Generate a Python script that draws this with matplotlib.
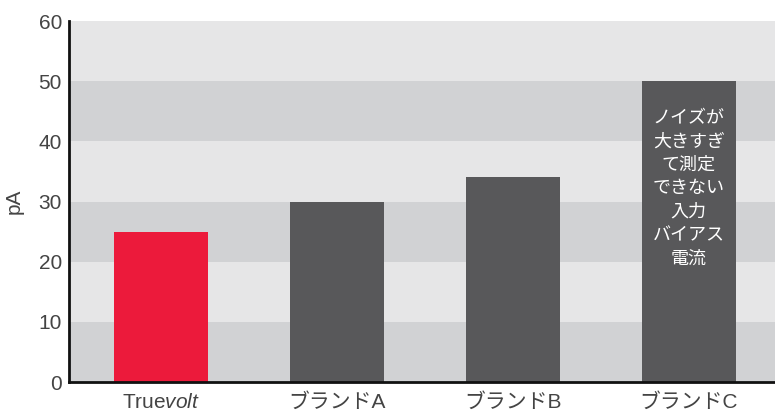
"""Input bias current comparison: Truevolt vs other brands (pA)."""

import matplotlib
matplotlib.use("Agg")
import matplotlib.pyplot as plt

plt.rcParams["font.family"] = ["Liberation Sans", "Noto Sans CJK JP", "DejaVu Sans"]
plt.rcParams["mathtext.fontset"] = "custom"
plt.rcParams["mathtext.rm"] = "Liberation Sans"
plt.rcParams["mathtext.it"] = "Liberation Sans:italic"

categories = ["True$\\mathit{volt}$", "ブランドA", "ブランドB", "ブランドC"]
values = [25, 30, 34, 50]
bar_colors = ["#ec1a3b", "#58585a", "#58585a", "#58585a"]
note_c = "ノイズが\n大きすぎ\nて測定\nできない\n入力\nバイアス\n電流"
y_ticks = [0, 10, 20, 30, 40, 50, 60]

fig = plt.figure(figsize=(7.75, 4.13), dpi=100)
ax = fig.add_axes([0.089, 0.075, 0.911, 0.874])

# alternating grey bands behind the bars
for lo, hi in zip(y_ticks[:-1], y_ticks[1:]):
    shade = "#d1d2d4" if (lo // 10) % 2 == 0 else "#e6e6e7"
    ax.axhspan(lo, hi, color=shade, zorder=0, lw=0)

x = range(len(categories))
ax.bar(x, values, width=0.535, color=bar_colors, zorder=2)
ax.text(3, 45.4, note_c, color="white", ha="center", va="top",
        fontsize=13, linespacing=1.39, zorder=3,
        family=["Noto Sans CJK JP", "DejaVu Sans"])

ax.set_xlim(-0.523, 3.49)
ax.set_ylim(0, 60)
ax.set_yticks(y_ticks)
ax.set_xticks(list(x))
ax.set_xticklabels(categories)
ax.tick_params(axis="both", length=0, labelsize=15, labelcolor="#444444")
ax.tick_params(axis="y", pad=5)
ax.tick_params(axis="x", pad=8)
ax.set_ylabel("pA", fontsize=15, color="#444444", labelpad=10.5)

for side in ("top", "right"):
    ax.spines[side].set_visible(False)
for side in ("left", "bottom"):
    ax.spines[side].set_linewidth(2)
    ax.spines[side].set_color("#111111")
    ax.spines[side].set_zorder(4)

fig.savefig("out.png", dpi=100)
